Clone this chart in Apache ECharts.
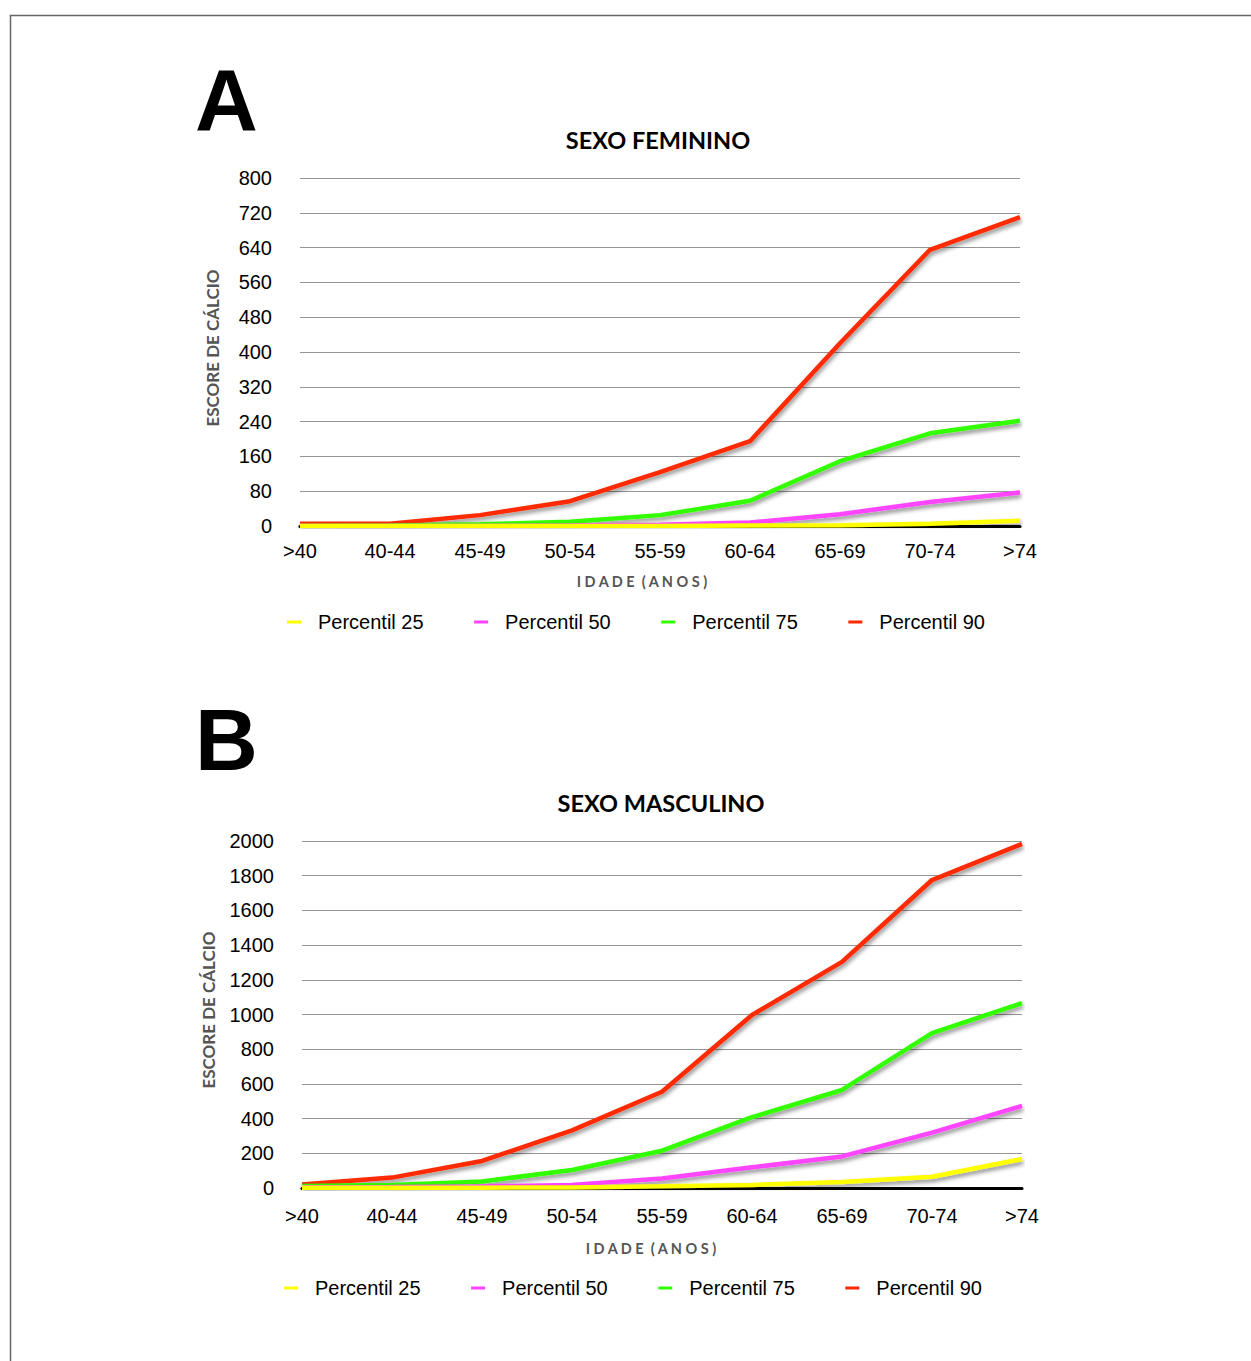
<!DOCTYPE html>
<html><head><meta charset="utf-8">
<script src="https://cdn.jsdelivr.net/npm/echarts@6/dist/echarts.min.js"></script>
<style>html,body{margin:0;padding:0;background:#fff}#c{width:1251px;height:1361px}</style>
</head><body><div id="c"></div>
<script>
const categories = ['>40','40-44','45-49','50-54','55-59','60-64','65-69','70-74','>74'];
const seriesNames = ['Percentil 25','Percentil 50','Percentil 75','Percentil 90'];
const femP25 = [0,0,0,0,0,1,2,5,12];
const femP50 = [0,0,0,1,3,8,27,55,77];
const femP75 = [0,1,4,10,25,58,149,213,242];
const femP90 = [5,5,25,57,124,195,420,635,710];
const masP25 = [2,2,2,3,10,18,35,65,167];
const masP50 = [5,6,9,18,55,119,182,319,473];
const masP75 = [12,18,38,104,215,408,565,893,1066];
const masP90 = [20,60,156,332,555,997,1303,1775,1983];
const colors = ['#ffff00','#ff44ff','#33ff00','#ff2a00'];

const chart = echarts.init(document.getElementById('c'), null, {renderer:'svg'});
const lab = {fontFamily:'Liberation Sans', fontSize:20, color:'#000'};
function yAxis(idx, max, interval){
  return {gridIndex:idx, type:'value', min:0, max:max, interval:interval,
    axisLine:{show:false}, axisTick:{show:false},
    axisLabel:Object.assign({margin:28, formatter:function(v){return String(v);}}, lab),
    splitLine:{show:true, lineStyle:{color:'#959595', width:1}}};
}
function xAxis(idx, margin){
  return {gridIndex:idx, type:'category', data:categories, boundaryGap:false,
    axisLine:{show:true, lineStyle:{color:'#000', width:3}},
    axisTick:{show:false}, axisLabel:Object.assign({margin:margin, interval:0}, lab), splitLine:{show:false}};
}
function ser(idx, name, data, color){
  return {type:'line', name:name, xAxisIndex:idx, yAxisIndex:idx, data:data, symbol:'none',
    color:color, lineStyle:{color:color, width:4.5, shadowColor:'rgba(0,0,0,0.45)', shadowBlur:4, shadowOffsetX:1, shadowOffsetY:3},
    animation:false};
}
const fem = [femP25, femP50, femP75, femP90];
const mas = [masP25, masP50, masP75, masP90];
const series = [];
for (let i = 3; i >= 0; i--) series.push(ser(0, seriesNames[i], fem[i], colors[i]));
for (let i = 3; i >= 0; i--) series.push(ser(1, seriesNames[i], mas[i], colors[i]));

function legend(left, top){
  return {data:seriesNames, left:left, top:top, padding:0, icon:'rect', itemWidth:14, itemHeight:3, itemGap:50.5,
    textStyle:{fontFamily:'Liberation Sans', fontSize:20, color:'#000', padding:[0,0,0,12]}, selectedMode:false};
}
const titleFont = 'bold 23.5px Lato';
const nameFont = 'bold 17px Lato';
chart.setOption({
  animation:false,
  grid:[{left:300, top:178, width:720, height:348}, {left:302, top:841, width:720, height:347}],
  xAxis:[xAxis(0, 15), xAxis(1, 18)],
  yAxis:[yAxis(0, 800, 80), yAxis(1, 2000, 200)],
  legend:[legend(287, 612), legend(284, 1278)],
  series:series,
  graphic:[
    {type:'rect', shape:{x:10.5, y:15.5, width:1400, height:1500}, style:{fill:'none', stroke:'#666', lineWidth:1.5}, silent:true},
    {type:'text', style:{text:'A', x:195, y:99, font:'bold 87px "Liberation Sans"', fill:'#000', textVerticalAlign:'middle'}},
    {type:'text', style:{text:'B', x:195, y:739, font:'bold 87px "Liberation Sans"', fill:'#000', textVerticalAlign:'middle'}},
    {type:'text', style:{text:'SEXO FEMININO', x:658, y:140, font:titleFont, fill:'#000', textAlign:'center', textVerticalAlign:'middle'}},
    {type:'text', style:{text:'SEXO MASCULINO', x:661, y:803, font:titleFont, fill:'#000', textAlign:'center', textVerticalAlign:'middle'}},
    {type:'text', rotation:Math.PI/2, x:212, y:348, style:{text:'ESCORE DE CÁLCIO', x:0, y:0, font:nameFont, fill:'#555', textAlign:'center', textVerticalAlign:'middle'}},
    {type:'text', rotation:Math.PI/2, x:208, y:1010, style:{text:'ESCORE DE CÁLCIO', x:0, y:0, font:nameFont, fill:'#555', textAlign:'center', textVerticalAlign:'middle'}},
    {type:'text', style:{text:'I D A D E  ( A N O S )', x:642, y:581, font:'bold 14.5px Lato', fill:'#555', textAlign:'center', textVerticalAlign:'middle'}},
    {type:'text', style:{text:'I D A D E  ( A N O S )', x:651, y:1248, font:'bold 14.5px Lato', fill:'#555', textAlign:'center', textVerticalAlign:'middle'}}
  ]
});
</script></body></html>
